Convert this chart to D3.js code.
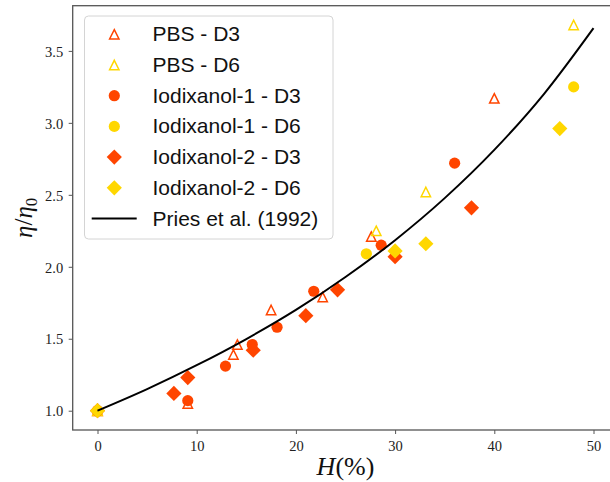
<!DOCTYPE html>
<html>
<head>
<meta charset="utf-8">
<script src="https://cdn.jsdelivr.net/npm/d3@7/dist/d3.min.js"></script>
<style>
  html, body { margin: 0; padding: 0; background: #fff; }
  svg { display: block; }
</style>
</head>
<body>
<svg id="chart" width="610" height="482"></svg>
<script>
// Haematocrit H (%) and relative viscosity eta/eta0 for each sample series
const pbsD3 = [[0, 1.0], [9.1, 1.05], [13.7, 1.39], [14.1, 1.46], [17.5, 1.70], [22.7, 1.79], [27.6, 2.21], [40.0, 3.17]];
const pbsD6 = [[0, 1.0], [28.1, 2.25], [33.1, 2.52], [48.0, 3.68]];
const iodix1D3 = [[0, 1.0], [9.1, 1.07], [12.9, 1.31], [15.6, 1.46], [18.1, 1.58], [21.8, 1.83], [28.6, 2.15], [36.0, 2.72]];
const iodix1D6 = [[0, 1.0], [27.1, 2.09], [48.0, 3.25]];
const iodix2D3 = [[0, 1.0], [7.7, 1.12], [9.1, 1.23], [15.7, 1.42], [21.0, 1.66], [24.2, 1.84], [30.0, 2.07], [37.7, 2.41]];
const iodix2D6 = [[0, 1.0], [30.0, 2.11], [33.1, 2.16], [46.6, 2.96]];

// Pries et al. (1992) reference curve
const priesH = [0, 5, 10, 15, 20, 25, 30, 35, 40, 45, 50];
const priesEta = [1.0, 1.15, 1.316, 1.498, 1.70, 1.929, 2.185, 2.477, 2.812, 3.20, 3.658];

const xTicks = [0, 10, 20, 30, 40, 50];
const yTicks = [1.0, 1.5, 2.0, 2.5, 3.0, 3.5];

const seriesNames = ["PBS - D3", "PBS - D6", "Iodixanol-1 - D3", "Iodixanol-1 - D6", "Iodixanol-2 - D3", "Iodixanol-2 - D6"];
const lineName = "Pries et al. (1992)";

const ORANGE = "#ff4500";
const GOLD = "#ffd700";

const series = [
  { name: seriesNames[0], data: pbsD3, shape: "triangle", color: ORANGE },
  { name: seriesNames[1], data: pbsD6, shape: "triangle", color: GOLD },
  { name: seriesNames[2], data: iodix1D3, shape: "circle", color: ORANGE },
  { name: seriesNames[3], data: iodix1D6, shape: "circle", color: GOLD },
  { name: seriesNames[4], data: iodix2D3, shape: "diamond", color: ORANGE },
  { name: seriesNames[5], data: iodix2D6, shape: "diamond", color: GOLD }
];

const svg = d3.select("#chart");

// plot box
const boxLeft = 72.7, boxTop = 5.7, boxRight = 618.3, boxBottom = 430;

// domains padded by 5% on each side of the data extent
const allPts = series.flatMap(s => s.data).concat(priesH.map((h, i) => [h, priesEta[i]]));
function padded(ext) { const p = (ext[1] - ext[0]) * 0.05; return [ext[0] - p, ext[1] + p]; }
const x = d3.scaleLinear().domain(padded(d3.extent(allPts, d => d[0]))).range([boxLeft, boxRight]);
const y = d3.scaleLinear().domain(padded(d3.extent(allPts, d => d[1]))).range([boxBottom, boxTop]);

const spineColor = "#555";
const tickFont = "'Liberation Serif', 'Times New Roman', serif";

// axes
const gx = svg.append("g").attr("transform", `translate(0,${boxBottom})`)
  .call(d3.axisBottom(x).tickValues(xTicks).tickSize(4).tickFormat(d3.format("d")));
gx.select(".domain").remove();
gx.selectAll(".tick line").attr("stroke", spineColor).attr("stroke-width", 1);
gx.selectAll(".tick text").attr("y", 20.8).attr("dy", 0)
  .style("font-family", tickFont).style("font-size", "14.5px").attr("fill", "#222");

const gy = svg.append("g").attr("transform", `translate(${boxLeft},0)`)
  .call(d3.axisLeft(y).tickValues(yTicks).tickSize(4).tickPadding(5.5).tickFormat(d3.format(".1f")));
gy.select(".domain").remove();
gy.selectAll(".tick line").attr("stroke", spineColor).attr("stroke-width", 1);
gy.selectAll(".tick text").attr("dy", "0.36em")
  .style("font-family", tickFont).style("font-size", "14.5px").attr("fill", "#222");

// frame (spines)
svg.append("rect")
  .attr("x", boxLeft).attr("y", boxTop)
  .attr("width", boxRight - boxLeft).attr("height", boxBottom - boxTop)
  .attr("fill", "none").attr("stroke", spineColor).attr("stroke-width", 1.3);

// marker drawing
function drawMarker(g, shape, color, cx, cy) {
  if (shape === "circle") {
    g.append("circle").attr("cx", cx).attr("cy", cy).attr("r", 5.6).attr("fill", color);
  } else if (shape === "diamond") {
    const h = 7.6;
    g.append("path")
      .attr("d", `M${cx},${cy - h}L${cx + h},${cy}L${cx},${cy + h}L${cx - h},${cy}Z`)
      .attr("fill", color);
  } else {
    const h = 4.7;
    g.append("path")
      .attr("d", `M${cx},${cy - h}L${cx + h},${cy + h}L${cx - h},${cy + h}Z`)
      .attr("fill", "none").attr("stroke", color).attr("stroke-width", 1.5)
      .attr("stroke-linejoin", "miter");
  }
}

const marks = svg.append("g");
series.forEach(s => {
  const g = marks.append("g");
  s.data.forEach(d => drawMarker(g, s.shape, s.color, x(d[0]), y(d[1])));
});

// model curve
const line = d3.line().x(d => x(d[0])).y(d => y(d[1])).curve(d3.curveMonotoneX);
svg.append("path")
  .datum(priesH.map((h, i) => [h, priesEta[i]]))
  .attr("d", line)
  .attr("fill", "none").attr("stroke", "#000").attr("stroke-width", 2);

// axis titles
const xl = svg.append("text")
  .attr("x", (boxLeft + boxRight) / 2).attr("y", 475)
  .attr("text-anchor", "middle")
  .style("font-family", tickFont).style("font-size", "26px").attr("fill", "#111");
xl.append("tspan").style("font-style", "italic").text("H");
xl.append("tspan").text("(%)");

const yl = svg.append("text")
  .attr("transform", `translate(32,${(boxTop + boxBottom) / 2}) rotate(-90)`)
  .attr("text-anchor", "middle")
  .style("font-family", tickFont).style("font-size", "25px").attr("fill", "#111");
yl.append("tspan").style("font-style", "italic").text("η");
yl.append("tspan").text("/");
yl.append("tspan").style("font-style", "italic").text("η");
yl.append("tspan").attr("dy", 5).style("font-size", "17px").text("0");

// legend
const lg = svg.append("g");
lg.append("rect")
  .attr("x", 84.5).attr("y", 16).attr("width", 248.5).attr("height", 223)
  .attr("rx", 4).attr("ry", 4)
  .attr("fill", "#fff").attr("fill-opacity", 0.8)
  .attr("stroke", "#d4d4d4").attr("stroke-width", 1);

const rowY = i => 34.3 + i * 30.7;
const legendFont = "'Liberation Sans', Arial, Helvetica, sans-serif";
series.forEach((s, i) => {
  drawMarker(lg, s.shape, s.color, 114.3, rowY(i));
  lg.append("text").attr("x", 152.5).attr("y", rowY(i) + 7)
    .style("font-family", legendFont).style("font-size", "21px").attr("fill", "#111")
    .text(s.name);
});
lg.append("line")
  .attr("x1", 91.7).attr("x2", 136.7)
  .attr("y1", rowY(6)).attr("y2", rowY(6))
  .attr("stroke", "#000").attr("stroke-width", 2);
lg.append("text").attr("x", 152.5).attr("y", rowY(6) + 7)
  .style("font-family", legendFont).style("font-size", "21px").attr("fill", "#111")
  .text(lineName);
</script>
</body>
</html>
